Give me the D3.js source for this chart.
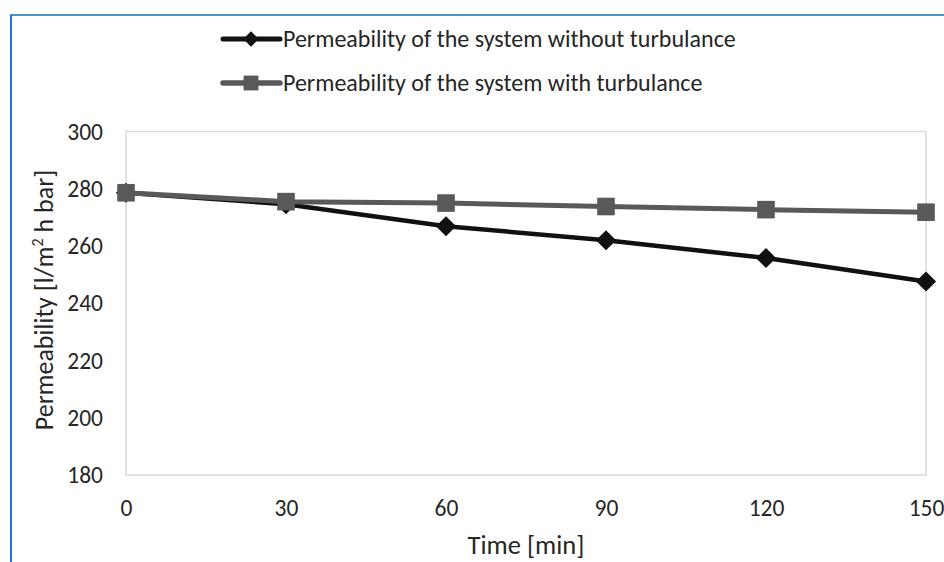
<!DOCTYPE html>
<html>
<head>
<meta charset="utf-8">
<script src="https://cdn.jsdelivr.net/npm/d3@7"></script>
<style>
  body { margin: 0; background: #fff; }
  svg { display: block; font-family: Carlito, Calibri, "Open Sans", sans-serif; }
</style>
</head>
<body>
<script>
// data
var times = [0, 30, 60, 90, 120, 150];
var withoutTurb = [278.6, 274.6, 266.9, 262.0, 255.8, 247.6];
var withTurb = [278.6, 275.5, 275.0, 273.8, 272.7, 271.8];
var yTicks = [180, 200, 220, 240, 260, 280, 300];
var seriesNames = ["Permeability of the system without turbulance",
                   "Permeability of the system with turbulance"];

var width = 944, height = 562;
var margin = {top: 131.5, right: 18, bottom: 87, left: 126};

var svg = d3.select("body").append("svg")
    .attr("width", width)
    .attr("height", height);

// blue frame (top + left edge)
svg.append("line").attr("x1", 10).attr("x2", width).attr("y1", 15).attr("y2", 15)
    .attr("stroke", "#4f93c9").attr("stroke-width", 2);
svg.append("line").attr("x1", 11).attr("x2", 11).attr("y1", 15).attr("y2", height)
    .attr("stroke", "#1a7ad6").attr("stroke-width", 2);

var x = d3.scaleLinear().domain([0, 150]).range([margin.left, width - margin.right]);
var y = d3.scaleLinear().domain([180, 300]).range([height - margin.bottom, margin.top]);

// plot box
svg.append("rect")
    .attr("x", x(0)).attr("y", y(300))
    .attr("width", x(150) - x(0)).attr("height", y(180) - y(300))
    .attr("fill", "none").attr("stroke", "#d9d9d9").attr("stroke-width", 1.5);

// axes (labels only)
var xAxis = svg.append("g")
    .attr("transform", "translate(0," + y(180) + ")")
    .call(d3.axisBottom(x).tickValues(times).tickSize(0).tickPadding(24));
xAxis.attr("font-family", null).attr("font-size", 23.5);
xAxis.select(".domain").remove();
xAxis.selectAll("text").attr("fill", "#262626");

var yAxis = svg.append("g")
    .attr("transform", "translate(" + x(0) + ",0)")
    .call(d3.axisLeft(y).tickValues(yTicks).tickSize(0).tickPadding(23));
yAxis.attr("font-family", null).attr("font-size", 23.5);
yAxis.select(".domain").remove();
yAxis.selectAll("text").attr("fill", "#262626");

// axis titles
svg.append("text")
    .attr("x", (x(0) + x(150)) / 2).attr("y", 554)
    .attr("text-anchor", "middle").attr("font-size", 26.5).attr("fill", "#262626")
    .text("Time [min]");

var yt = svg.append("text")
    .attr("transform", "translate(53,300) rotate(-90)")
    .attr("text-anchor", "middle").attr("font-size", 26).attr("fill", "#262626");
yt.append("tspan").text("Permeability [l/m");
yt.append("tspan").attr("font-size", 16).attr("dy", -10).text("2");
yt.append("tspan").attr("dy", 10).text(" h bar]");

var line = d3.line()
    .x(function(d, i) { return x(times[i]); })
    .y(function(d) { return y(d); });

var diamond = d3.symbol().type(d3.symbolDiamond2).size(260);
var square = d3.symbol().type(d3.symbolSquare).size(310);

// series without turbulance
svg.append("path").datum(withoutTurb)
    .attr("d", line).attr("fill", "none")
    .attr("stroke", "#111").attr("stroke-width", 4.5).attr("stroke-linejoin", "round");
svg.selectAll(".dia").data(withoutTurb).enter().append("path")
    .attr("class", "dia")
    .attr("d", diamond)
    .attr("transform", function(d, i) { return "translate(" + x(times[i]) + "," + y(d) + ")"; })
    .attr("fill", "#111");

// series with turbulance
svg.append("path").datum(withTurb)
    .attr("d", line).attr("fill", "none")
    .attr("stroke", "#595959").attr("stroke-width", 5).attr("stroke-linejoin", "round");
svg.selectAll(".sq").data(withTurb).enter().append("path")
    .attr("class", "sq")
    .attr("d", square)
    .attr("transform", function(d, i) { return "translate(" + x(times[i]) + "," + y(d) + ")"; })
    .attr("fill", "#595959");

// legend
var legendY = [39, 83];
var legendColors = ["#111", "#595959"];
var legendSymbols = [d3.symbol().type(d3.symbolDiamond2).size(150), d3.symbol().type(d3.symbolSquare).size(220)];
var lg = svg.selectAll(".legend").data(seriesNames).enter().append("g")
    .attr("class", "legend")
    .attr("transform", function(d, i) { return "translate(0," + legendY[i] + ")"; });
lg.append("line").attr("x1", 223).attr("x2", 280)
    .attr("stroke", function(d, i) { return legendColors[i]; })
    .attr("stroke-width", function(d, i) { return i == 0 ? 5 : 5.5; })
    .attr("stroke-linecap", "round");
lg.append("path")
    .attr("d", function(d, i) { return legendSymbols[i](); })
    .attr("transform", "translate(251,0)")
    .attr("fill", function(d, i) { return legendColors[i]; });
lg.append("text")
    .attr("x", 283).attr("dy", "0.35em")
    .attr("font-size", 24).attr("fill", "#262626")
    .text(function(d) { return d; });
</script>
</body>
</html>
